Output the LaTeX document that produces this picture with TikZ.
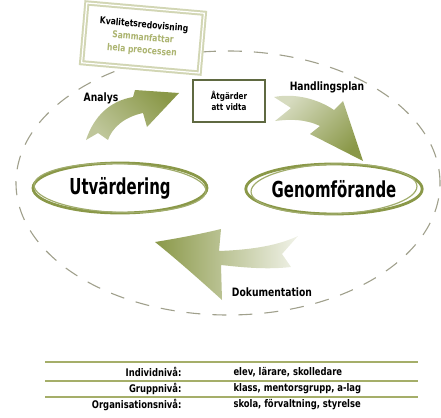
\documentclass[tikz,border=0pt]{standalone}
\usepackage{fontspec}
\usetikzlibrary{shapes.geometric}
\newfontfamily\bighand{DejaVu Sans}[FakeStretch=0.68]
\newfontfamily\hand{DejaVu Sans}[FakeStretch=0.8]
\definecolor{leaf}{RGB}{138,152,72}
\definecolor{pale}{RGB}{172,180,112}
\definecolor{boxline}{RGB}{210,214,180}
\definecolor{ringgray}{RGB}{160,160,140}
\definecolor{rulegreen}{RGB}{165,174,105}
\definecolor{darkbox}{RGB}{95,105,65}
\begin{document}
\begin{tikzpicture}[x=1pt,y=-1pt]
\tikzstyle{outer-ring}=[ellipse, draw=ringgray, line width=1.1pt, dash pattern=on 14pt off 12pt, minimum width=424pt, minimum height=264pt, inner sep=0pt]
\tikzstyle{phase}=[ellipse, draw=leaf, line width=2.8pt, font=\bighand\bfseries\fontsize{22}{24}\selectfont, inner sep=0pt, minimum height=50pt]
\tikzstyle{brush}=[draw=leaf!80, line width=1.2pt]
\tikzstyle{report}=[draw=boxline, line width=2pt, double=white, double distance=1.2pt, fill=white, align=center, minimum width=118pt, minimum height=60pt, font=\hand\bfseries\fontsize{9.5}{12.8}\selectfont]
\tikzstyle{actions}=[draw=darkbox, line width=1.3pt, fill=white, align=center, minimum width=72pt, minimum height=42pt, font=\hand\bfseries\fontsize{9}{11}\selectfont]
\tikzstyle{step-label}=[font=\hand\bfseries\fontsize{11.5}{13}\selectfont]
\tikzstyle{flow-arrow}=[draw=none]
\tikzstyle{table-rule}=[draw=rulegreen, line width=1.3pt]
\tikzstyle{level-name}=[anchor=east, font=\hand\bfseries\fontsize{10.5}{12}\selectfont]
\tikzstyle{level-members}=[anchor=west, font=\hand\bfseries\fontsize{10.5}{12}\selectfont]
\useasboundingbox (0,0) rectangle (441,417);

\node[style=outer-ring] (loop) at (228,183) {};

\node[style=report, rotate=-5] (report) at (143,38) {Kvalitetsredovisning\\\textcolor{pale}{Sammanfattar}\\\textcolor{pale}{hela preocessen}};
\node[style=actions] (actions) at (229,101) {Åtgärder\\att vidta};

\node[style=phase, minimum width=174pt] (utv) at (120,188) {Utvärdering};
\draw[style=brush, rotate around={-2:(utv.center)}] (utv.center) ellipse (86 and 24.5);
\node[style=phase, minimum width=168pt] (genom) at (334,189) {Genomförande};
\draw[style=brush, rotate around={2:(genom.center)}] (genom.center) ellipse (83 and 25);

% arrows
\shade[style=flow-arrow, left color=leaf!55!white, middle color=leaf, right color=leaf, shading angle=135]
  (86,140) .. controls (94,116) and (110,101) .. (133,97) -- (135,90) -- (179,93)
  -- (147,127) -- (143,113) .. controls (124,117) and (112,128) .. (108,140) -- (98,133) -- cycle;
\shade[style=flow-arrow, left color=leaf!35!white, middle color=leaf, right color=leaf, shading angle=45]
  (274,97) .. controls (295,93) and (318,99) .. (334,110) -- (343,101) -- (363,161)
  -- (310,134) -- (320,126) .. controls (305,119) and (290,119) .. (275,121) -- (291,108) -- cycle;
\shade[style=flow-arrow, left color=leaf, middle color=leaf, right color=leaf!12!white]
  (155,242) .. controls (180,238) and (205,233) .. (221,229) -- (219,251)
  .. controls (245,250) and (275,247) .. (298,236) -- (282,254) -- (291,267)
  .. controls (265,270) and (240,267) .. (221,265) -- (222,300)
  .. controls (200,280) and (175,258) .. (155,242) -- cycle;

\node[style=step-label] (analys) at (101,98) {Analys};
\node[style=step-label] (plan) at (327,87) {Handlingsplan};
\node[style=step-label] (dok) at (272,292) {Dokumentation};

% table
\draw[style=table-rule] (45,362) -- (418,362);
\draw[style=table-rule] (45,381) -- (418,381);
\draw[style=table-rule] (45,397) -- (418,397);
\node[style=level-name] (ind) at (185,372) {Individnivå:};
\node[style=level-members] (indm) at (230,372) {elev, lärare, skolledare};
\node[style=level-name] (grp) at (185,389) {Gruppnivå:};
\node[style=level-members] (grpm) at (230,389) {klass, mentorsgrupp, a-lag};
\node[style=level-name] (org) at (185,405) {Organisationsnivå:};
\node[style=level-members] (orgm) at (230,405) {skola, förvaltning, styrelse};

\end{tikzpicture}
\end{document}
